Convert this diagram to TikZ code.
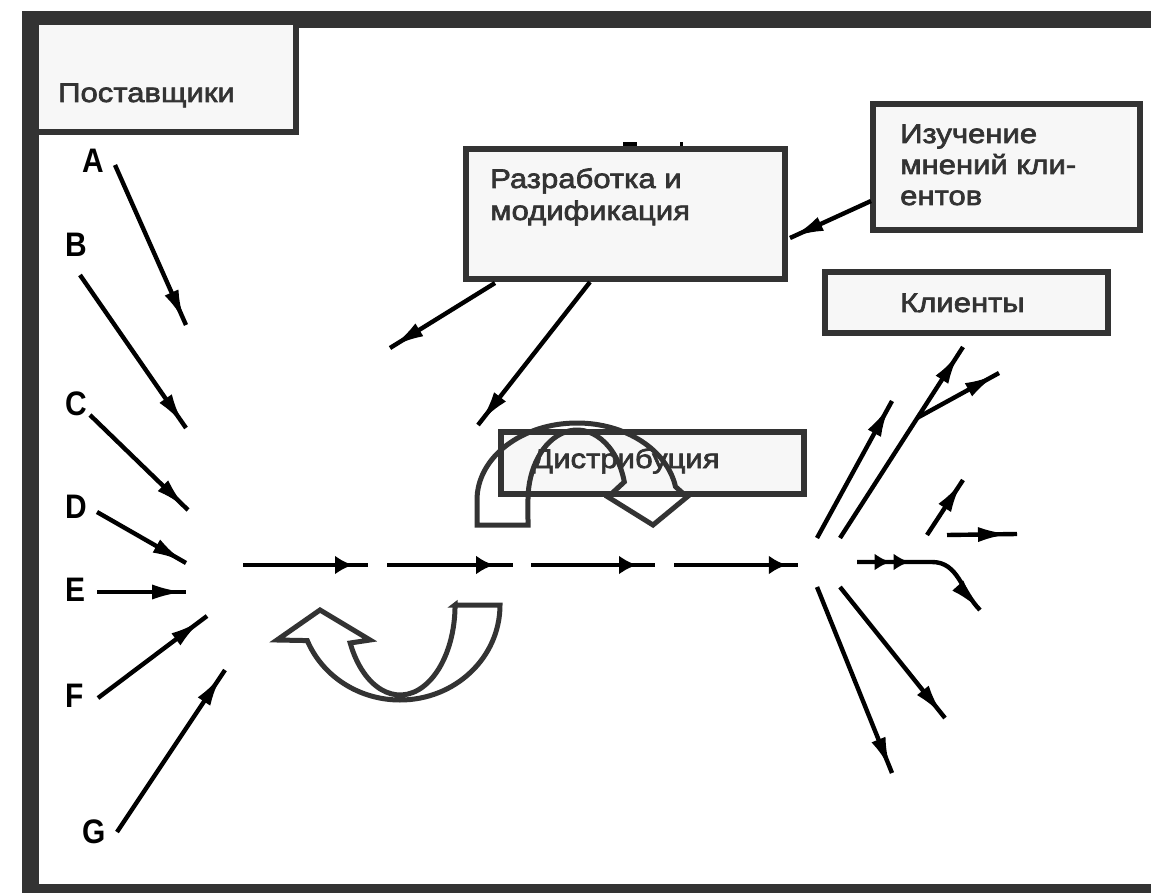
\documentclass[tikz,border=0pt]{standalone}
\usepackage{fontspec}
\setmainfont{Liberation Sans}
\newfontfamily\boxfont{Liberation Sans}[FakeStretch=1.15,FakeBold=2.5]
\newfontfamily\letfont{Liberation Sans}[FakeStretch=0.88]
\usetikzlibrary{arrows.meta,decorations.markings}
\definecolor{framec}{HTML}{333333}
\definecolor{boxfill}{HTML}{F7F7F7}
\definecolor{txt}{HTML}{333333}
\tikzset{
  boxst/.style={draw=framec, fill=boxfill, line width=6pt, rectangle, inner sep=0pt},
  btext/.style={text=txt, font=\boxfont\fontsize{27}{32}\selectfont, inner sep=0pt, anchor=base west},
  ltr/.style={text=black, font=\letfont\bfseries\fontsize{34}{34}\selectfont, inner sep=0pt, anchor=base west},
  arr/.style={line width=4.4pt, draw=black, postaction={decorate},
    decoration={markings, mark=at position #1 with {\arrow{Latex[length=32pt,width=15pt]}}}},
  harr/.style={line width=4.6pt, draw=black, postaction={decorate},
    decoration={markings, mark=at position #1 with {\arrow{Latex[length=18pt,width=19pt]}}}},
  farr/.style={line width=4.4pt, draw=black, postaction={decorate},
    decoration={markings,
      mark=at position 0.23 with {\arrow{Latex[length=16pt,width=17pt]}},
      mark=at position 0.36 with {\arrow{Latex[length=16pt,width=17pt]}},
      mark=at position 0.98 with {\arrow{Latex[length=30pt,width=15pt]}}}},
  curv/.style={draw=framec, line width=5pt, line join=miter}
}
\begin{document}
\begin{tikzpicture}[x=1pt,y=-1pt]
\useasboundingbox (0,0) rectangle (1151,893);
\clip (0,0) rectangle (1151,893);
\fill[white] (0,0) rectangle (1151,893);
% outer frame
\draw[draw=framec, line width=17pt] (30.5,19.5) rectangle (1220,892);
% boxes
\draw[boxst] (36,22) rectangle (295.5,132);
\node[btext] (tPost) at (58,102) {Поставщики};

\fill[black] (623,142) rectangle (637,146);
\fill[black] (680,142) rectangle (683,146);

\node[boxst, minimum width=319pt, minimum height=130pt] (razr) at (625.5,214) {};
\node[btext] (tRaz1) at (490,188) {Разработка и};
\node[btext] (tRaz2) at (490,220) {модификация};

\node[boxst, minimum width=267pt, minimum height=126pt] (izuch) at (1006.5,167) {};
\node[btext] (tIz1) at (900,143) {Изучение};
\node[btext] (tIz2) at (900,174) {мнений кли-};
\node[btext] (tIz3) at (900,205) {ентов};

\node[boxst, minimum width=283pt, minimum height=61pt] (klient) at (966.5,302.5) {};
\node[btext] (tKl) at (900,312) {Клиенты};

\node[boxst, minimum width=303pt, minimum height=62pt] (distr) at (652.5,463) {};
\node[btext] (tDi) at (532,468) {Дистрибуция};

% curved arrow over distribution
\draw[curv] (477,525) -- (477,500)
  arc[start angle=180, end angle=350, x radius=100, y radius=77]
  -- (687,497) -- (653,525) -- (608,497) -- (624.3,481.9)
  arc[start angle=345, end angle=180, x radius=49, y radius=70]
  -- (528,525) -- cycle;
% curved arrow below axis
\draw[curv] (455,605) -- (500,605)
  arc[start angle=0, end angle=158, x radius=100, y radius=95]
  -- (277,640) -- (320,610) -- (370,640) -- (350.2,643)
  arc[start angle=155, end angle=0, x radius=55, y radius=90]
  -- cycle;

% letters
\node[ltr] (lA) at (82,173) {A};
\node[ltr] (lB) at (65,257) {B};
\node[ltr] (lC) at (65,415) {C};
\node[ltr] (lD) at (65,518) {D};
\node[ltr] (lE) at (65,601) {E};
\node[ltr] (lF) at (65,707) {F};
\node[ltr] (lG) at (82,843) {G};

% coordinates
\coordinate (a1) at (115,165); \coordinate (a2) at (186,325);
\coordinate (b1) at (80,275);  \coordinate (b2) at (186,428);
\coordinate (c1) at (90,415);  \coordinate (c2) at (188,510);
\coordinate (d1) at (97,512);  \coordinate (d2) at (186,563);
\coordinate (e1) at (97,592);  \coordinate (e2) at (186,592);
\coordinate (f1) at (98,698);  \coordinate (f2) at (207,616);
\coordinate (g1) at (117,832); \coordinate (g2) at (225,670);
\coordinate (s11) at (243,565); \coordinate (s12) at (368,565);
\coordinate (s21) at (387,565); \coordinate (s22) at (513,565);
\coordinate (s31) at (531,565); \coordinate (s32) at (655,565);
\coordinate (s41) at (674,565); \coordinate (s42) at (798,565);
\coordinate (l11) at (495,283); \coordinate (l12) at (390,348);
\coordinate (l21) at (590,282); \coordinate (l22) at (478,425);
\coordinate (i1) at (871,201); \coordinate (i2) at (790,238);
\coordinate (ra1) at (817,538); \coordinate (ra2) at (892,401);
\coordinate (rb1) at (840,538); \coordinate (rb2) at (963,347);
\coordinate (rc1) at (917,418); \coordinate (rc2) at (999,373);
\coordinate (rd1) at (927,535); \coordinate (rd2) at (963,480);
\coordinate (re1) at (947,535); \coordinate (re2) at (1017,534);
\coordinate (rf1) at (857,562); \coordinate (rf2) at (932,562); \coordinate (rf3) at (980,610);
\coordinate (rg1) at (817,587); \coordinate (rg2) at (892,773);
\coordinate (rh1) at (840,587); \coordinate (rh2) at (945,718);

% left fan
\draw[arr=0.98] (a1) -- (a2);
\draw[arr=0.98] (b1) -- (b2);
\draw[arr=0.98] (c1) -- (c2);
\draw[arr=0.98] (d1) -- (d2);
\draw[arr=0.98] (e1) -- (e2);
\draw[arr=0.95] (f1) -- (f2);
\draw[arr=0.97] (g1) -- (g2);
% axis
\draw[harr=0.88] (s11) -- (s12);
\draw[harr=0.85] (s21) -- (s22);
\draw[harr=0.855] (s31) -- (s32);
\draw[harr=0.91] (s41) -- (s42);
% from boxes
\draw[arr=0.98] (l11) -- (l12);
\draw[arr=0.98] (l21) -- (l22);
\draw[arr=0.98] (i1) -- (i2);
% right fan
\draw[arr=0.97] (ra1) -- (ra2);
\draw[arr=0.97] (rb1) -- (rb2);
\draw[arr=0.97] (rc1) -- (rc2);
\draw[arr=0.98] (rd1) -- (rd2);
\draw[arr=0.9] (re1) -- (re2);
\draw[farr] (rf1) -- (rf2) to[out=0,in=135] (rf3);
\draw[arr=0.98] (rg1) -- (rg2);
\draw[arr=0.98] (rh1) -- (rh2);
\end{tikzpicture}
\end{document}
